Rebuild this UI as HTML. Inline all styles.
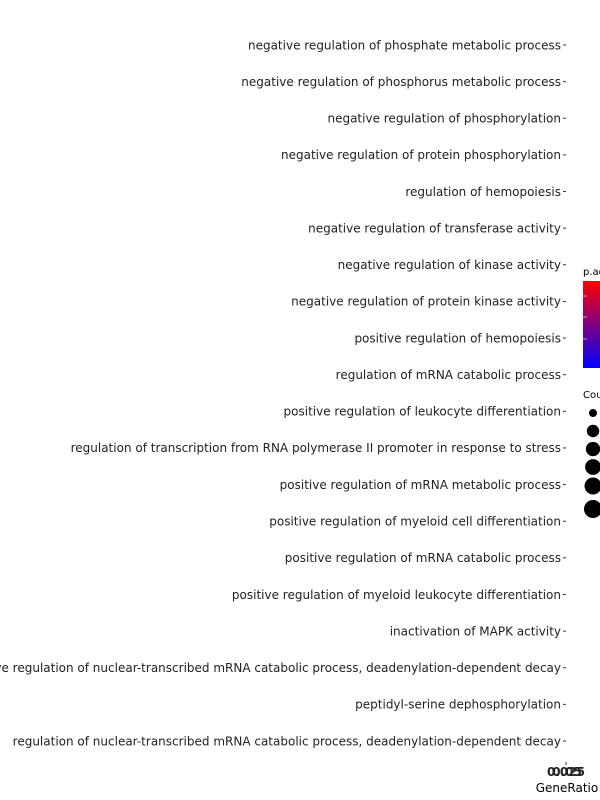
<!DOCTYPE html>
<html><head><meta charset="utf-8"><style>
html,body{margin:0;padding:0;background:#fff;width:600px;height:800px;overflow:hidden}
svg text{font-family:"DejaVu Sans","Liberation Sans",sans-serif}
</style></head><body>
<svg id="chart" width="600" height="800" xmlns="http://www.w3.org/2000/svg">
<defs>
<linearGradient id="grad" x1="0" y1="1" x2="0" y2="0"><stop offset="0" stop-color="#0000ff"/><stop offset="1" stop-color="#ff0000"/></linearGradient>
<clipPath id="panelClip"><rect x="566" y="20" width="0.01" height="740"/></clipPath>
</defs>
<g id="ylabels"></g>
<g id="marks" clip-path="url(#panelClip)"></g>
<g>
<line x1="566" y1="762" x2="566" y2="765" stroke="#333" stroke-width="1"/>
<text x="566" y="776" font-size="12" font-weight="bold" fill="#222" text-anchor="middle">0.025</text>
<text x="567" y="776" font-size="12" font-weight="bold" fill="#222" text-anchor="middle">0.05</text>
<text x="567" y="792" font-size="12" fill="#000" text-anchor="middle">GeneRatio</text>
</g>
<g>
<text x="583" y="275" font-size="10" fill="#000">p.adjust</text>
<rect x="583" y="281" width="17" height="87" fill="url(#grad)"/>
<line x1="583" y1="296" x2="587" y2="296" stroke="#fff" stroke-width="0.6"/>
<line x1="583" y1="317" x2="587" y2="317" stroke="#fff" stroke-width="0.6"/>
<line x1="583" y1="339" x2="587" y2="339" stroke="#fff" stroke-width="0.6"/>
</g>
<g id="sizeLegend">
<text x="583" y="398" font-size="10" fill="#000">Count</text>
</g>
</svg>
<script>
const categories = ["negative regulation of phosphate metabolic process","negative regulation of phosphorus metabolic process","negative regulation of phosphorylation","negative regulation of protein phosphorylation","regulation of hemopoiesis","negative regulation of transferase activity","negative regulation of kinase activity","negative regulation of protein kinase activity","positive regulation of hemopoiesis","regulation of mRNA catabolic process","positive regulation of leukocyte differentiation","regulation of transcription from RNA polymerase II promoter in response to stress","positive regulation of mRNA metabolic process","positive regulation of myeloid cell differentiation","positive regulation of mRNA catabolic process","positive regulation of myeloid leukocyte differentiation","inactivation of MAPK activity","positive regulation of nuclear-transcribed mRNA catabolic process, deadenylation-dependent decay","peptidyl-serine dephosphorylation","regulation of nuclear-transcribed mRNA catabolic process, deadenylation-dependent decay"];
const geneRatio = [0.05,0.05,0.05,0.05,0.05,0.05,0.05,0.05,0.05,0.05,0.05,0.05,0.05,0.05,0.05,0.05,0.025,0.025,0.025,0.025];
const padj = [0.02,0.02,0.02,0.02,0.02,0.02,0.02,0.02,0.02,0.02,0.02,0.02,0.02,0.02,0.02,0.02,0.02,0.02,0.02,0.02];
const counts = [2,2,2,2,2,2,2,2,2,2,2,2,2,2,2,2,1,1,1,1];
const sizeBreaks = [1,1.2,1.4,1.6,1.8,2];

const ns="http://www.w3.org/2000/svg";
const yTop=45, yStep=(741-45)/(categories.length-1);
function yScale(i){return yTop+i*yStep;}
function xScale(v){return 566+(v-0.025)/(0.05-0.025)*1;}
function rScale(c){return 4+5*Math.sqrt(Math.max(0,c-1));}
function cScale(p){const t=Math.max(0,Math.min(1,(p-0.01)/0.02));const r=Math.round(255*t),b=255-r;return `rgb(${r},0,${b})`;}
const yl=document.getElementById('ylabels');
const marks=document.getElementById('marks');
categories.forEach((c,i)=>{
  const y=yScale(i);
  const t=document.createElementNS(ns,'text');
  t.setAttribute('x',561);t.setAttribute('y',y+4.3);t.setAttribute('font-size','12');t.setAttribute('fill','#222');t.setAttribute('text-anchor','end');
  t.textContent=c;
  
  
  yl.appendChild(t);
  const l=document.createElementNS(ns,'line');
  l.setAttribute('x1',563);l.setAttribute('x2',566);l.setAttribute('y1',y);l.setAttribute('y2',y);l.setAttribute('stroke','#333');
  
  
  yl.appendChild(l);
  const d=document.createElementNS(ns,'circle');
  d.setAttribute('cx',xScale(geneRatio[i]));d.setAttribute('cy',y);d.setAttribute('r',rScale(counts[i]));d.setAttribute('fill',cScale(padj[i]));
  
  
  marks.appendChild(d);
});
const sl=document.getElementById('sizeLegend');
const sy=[413,431,449,467,486,509];
sizeBreaks.forEach((b,i)=>{
  const d=document.createElementNS(ns,'circle');
  d.setAttribute('cx',593);d.setAttribute('cy',sy[i]);d.setAttribute('r',rScale(b));d.setAttribute('fill','#000');
  
  
  sl.appendChild(d);
});
</script>
</body></html>
